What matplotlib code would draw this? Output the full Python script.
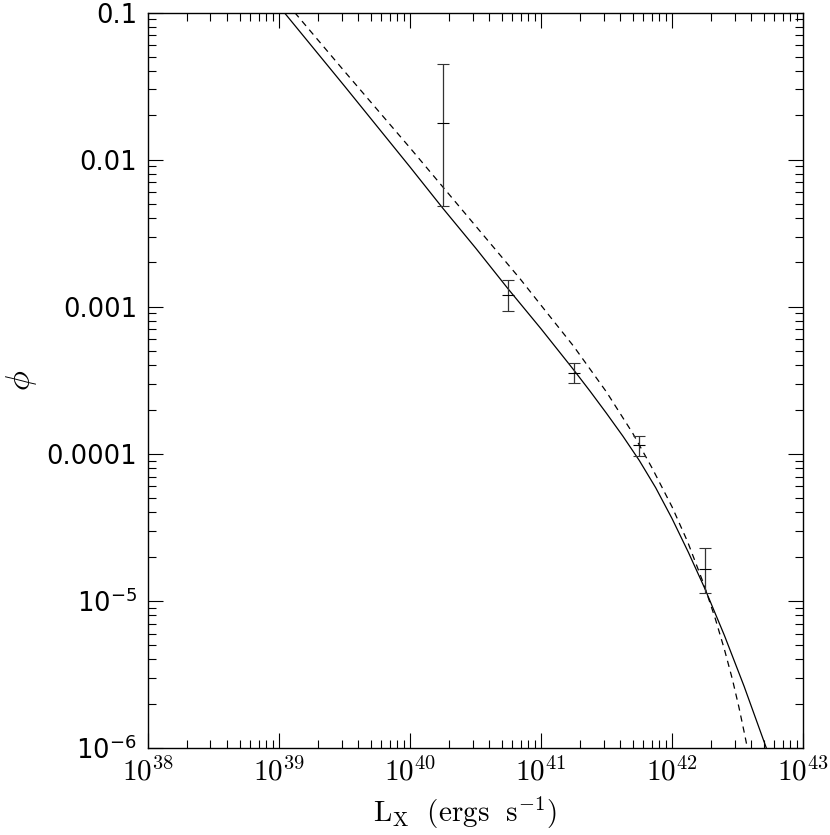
import numpy as np
import matplotlib.pyplot as plt
from matplotlib.ticker import LogLocator, NullFormatter

# binned data points (L_X in erg/s, phi and its error range)
lum_pts = [10**40.25, 10**40.75, 10**41.25, 10**41.75, 10**42.25]
phi_pts = [1.78e-2, 1.20e-3, 3.52e-4, 1.15e-4, 1.64e-5]
phi_lo = [4.84e-3, 9.35e-4, 3.04e-4, 9.66e-5, 1.13e-5]
phi_hi = [4.47e-2, 1.52e-3, 4.12e-4, 1.32e-4, 2.30e-5]

# model curves (log L, log phi)
logL_solid = [39.04, 39.50, 40.00, 40.25, 40.50, 40.75, 41.00, 41.25, 41.375, 41.50,
              41.625, 41.75, 41.875, 42.00, 42.125, 42.25, 42.40, 42.55, 42.72]
logphi_solid = [-1.00, -1.50, -2.05, -2.33, -2.60, -2.88, -3.15, -3.43, -3.575, -3.725,
                -3.88, -4.045, -4.23, -4.44, -4.67, -4.915, -5.235, -5.58, -6.00]

logL_dash = [39.12, 39.50, 40.00, 40.50, 40.84, 41.00, 41.25, 41.50, 41.70, 41.85,
             42.00, 42.12, 42.24, 42.33, 42.40, 42.46, 42.51, 42.555, 42.575]
logphi_dash = [-1.00, -1.40, -1.92, -2.45, -2.81, -2.99, -3.27, -3.58, -3.86, -4.10,
               -4.36, -4.60, -4.88, -5.12, -5.33, -5.53, -5.72, -5.91, -6.00]

xticks = [1e38, 1e39, 1e40, 1e41, 1e42, 1e43]
xticklabels = [r'$10^{38}$', r'$10^{39}$', r'$10^{40}$', r'$10^{41}$', r'$10^{42}$', r'$10^{43}$']
yticks = [1e-6, 1e-5, 1e-4, 1e-3, 1e-2, 1e-1]
yticklabels = [r'$10^{-6}$', r'$10^{-5}$', '0.0001', '0.001', '0.01', '0.1']

fig = plt.figure(figsize=(8.3, 8.35), dpi=100)
ax = fig.add_axes([0.1783, 0.1042, 0.7892, 0.8808])

ax.plot(10**np.array(logL_solid), 10**np.array(logphi_solid), color='k', lw=0.9)
ax.plot(10**np.array(logL_dash), 10**np.array(logphi_dash), color='k', lw=0.9,
        linestyle=(0, (5, 4)))

phi_pts = np.array(phi_pts)
yerr = [phi_pts - np.array(phi_lo), np.array(phi_hi) - phi_pts]
ax.errorbar(lum_pts, phi_pts, yerr=yerr, fmt='_', ms=8, mew=0.8, color='k',
            ecolor='0.2', elinewidth=0.9, capsize=4, capthick=0.8)

ax.set_xscale('log')
ax.set_yscale('log')
ax.set_xlim(1e38, 1e43)
ax.set_ylim(1e-6, 0.1)

ax.set_xticks(xticks, xticklabels)
ax.set_yticks(yticks, yticklabels)
ax.xaxis.set_minor_locator(LogLocator(base=10, subs=np.arange(2, 10), numticks=20))
ax.yaxis.set_minor_locator(LogLocator(base=10, subs=np.arange(2, 10), numticks=20))
ax.xaxis.set_minor_formatter(NullFormatter())
ax.yaxis.set_minor_formatter(NullFormatter())

ax.tick_params(which='both', direction='in', top=True, right=True, width=0.8, color='k')
ax.tick_params(which='major', length=11)
ax.tick_params(which='minor', length=5.5)
ax.tick_params(axis='x', which='major', labelsize=21, pad=7)
ax.tick_params(axis='y', which='major', labelsize=18.5, pad=8)
for lbl in ax.get_xticklabels():
    lbl.set_math_fontfamily('cm')
for lbl in ax.get_yticklabels():
    lbl.set_math_fontfamily('dejavusans')
for s in ax.spines.values():
    s.set_linewidth(1.0)

xl = ax.set_xlabel(r'$\mathrm{L_X\ \ (ergs\ \ s^{-1})}$', fontsize=21)
xl.set_math_fontfamily('cm')
ax.xaxis.set_label_coords(0.484, -0.064)
yl = ax.set_ylabel(r'$\phi$', fontsize=24)
yl.set_math_fontfamily('cm')
ax.yaxis.set_label_coords(-0.166, 0.5)

fig.savefig('out.png', dpi=100)
